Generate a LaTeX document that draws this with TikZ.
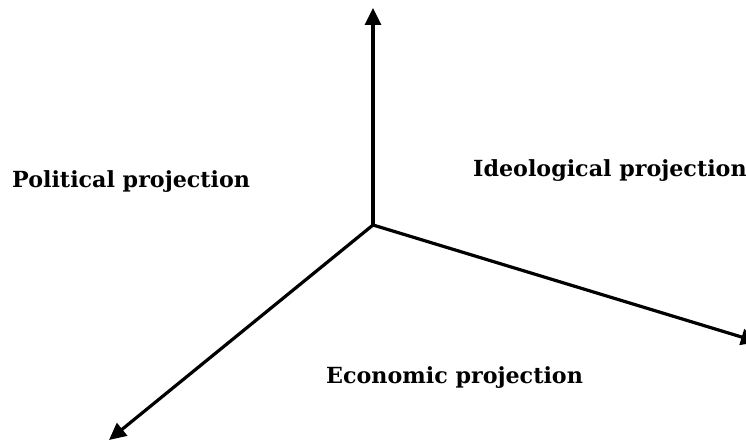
\documentclass[tikz,border=0pt]{standalone}
\usepackage{fontspec}
\setmainfont{DejaVu Serif}
\usetikzlibrary{arrows.meta}
\begin{document}
\begin{tikzpicture}[x=1pt,y=-1pt,
  axis/.style={line width=3.2pt,-{Triangle[length=17pt,width=16pt]}},
  lab/.style={font=\bfseries\fontsize{22.2}{26}\selectfont,inner sep=0pt,anchor=base west}]
\useasboundingbox (0,0) rectangle (746,443);
\coordinate (o) at (373,225);
\coordinate (top) at (373,8);
\coordinate (right) at (758,342);
\coordinate (left) at (109,440);
\begin{scope}
\clip (0,0) rectangle (746,443);
\draw[axis] (o) -- (top);
\draw[axis] (o) -- (right);
\draw[axis] (o) -- (left);
\end{scope}
\node[lab] (pol) at (12,188) {Political projection};
\node[lab] (ide) at (473,177) {Ideological projection};
\node[lab] (eco) at (326,383) {Economic projection};
\end{tikzpicture}
\end{document}
